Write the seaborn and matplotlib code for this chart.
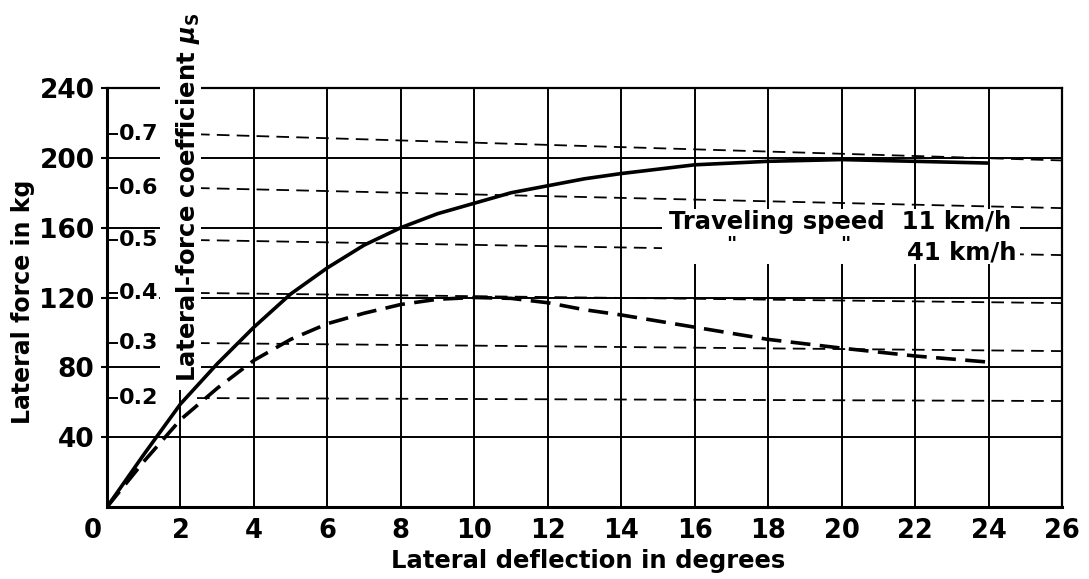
import matplotlib
matplotlib.use("Agg")
import matplotlib.pyplot as plt
import matplotlib.transforms as mtransforms
from matplotlib.patches import Rectangle
import seaborn as sns
import pandas as pd

# ---------------- data ----------------
deflection_deg = [0, 1, 2, 3, 4, 5, 6, 7, 8, 9, 10, 11, 12, 13, 14, 16, 18, 20, 22, 24]
force_11kmh = [0, 30, 59, 82, 103, 122, 137, 150, 160, 168, 174, 180, 184, 188, 191, 196, 198, 199, 198, 197]
force_41kmh = [0, 26, 50, 68, 84, 96, 105, 111, 116, 119, 120, 119.5, 117, 113, 110, 103, 96, 91, 86.5, 83]

mu_labels = ["0.2", "0.3", "0.4", "0.5", "0.6", "0.7"]
mu_left_kg = [62.4, 93.9, 122.6, 152.9, 182.7, 213.5]
mu_right_kg = [60.7, 89.3, 116.8, 144.3, 171.2, 198.5]

x_ticks = list(range(0, 27, 2))
y_ticks = [40, 80, 120, 160, 200, 240]

series_names = ["Traveling speed 11 km/h", "Traveling speed 41 km/h"]

df = pd.DataFrame({
    "deflection": deflection_deg * 2,
    "force": force_11kmh + force_41kmh,
    "speed": [series_names[0]] * len(deflection_deg) + [series_names[1]] * len(deflection_deg),
})

# ---------------- style ----------------
sns.set_style("white")
plt.rcParams["font.family"] = ["DejaVu Sans"]
plt.rcParams["font.weight"] = "bold"
for k in ("text.color", "axes.labelcolor", "xtick.color", "ytick.color"):
    plt.rcParams[k] = "black"

W, H = 1089, 579
fig, ax = plt.subplots(figsize=(W / 100, H / 100), dpi=100)
fig.subplots_adjust(left=107 / W, right=1062 / W, top=1 - 88 / H, bottom=1 - 507 / H)

ax.set_xlim(0, 26)
ax.set_ylim(0, 240)
ax.set_xticks(x_ticks)
ax.set_yticks(y_ticks)
ax.set_xticklabels([str(v) for v in x_ticks], fontsize=18.5, fontweight="bold")
ax.set_yticklabels([str(v) for v in y_ticks], fontsize=19, fontweight="bold")
ax.tick_params(axis="x", length=0, pad=8)
ax.tick_params(axis="y", length=4, width=1.5, color="black", direction="out", pad=5, left=True)
ax.grid(True, color="black", linewidth=1.4, zorder=1)
ax.set_axisbelow(True)
for side, sp in ax.spines.items():
    sp.set_visible(True)
    sp.set_color("black")
    sp.set_linewidth(2.2 if side in ("left", "bottom") else 1.6)

# the "0" label sits a little left of the axis corner
first = ax.get_xticklabels()[0]
first.set_transform(first.get_transform() + mtransforms.ScaledTranslation(-0.14, 0, fig.dpi_scale_trans))

# mu (lateral-force coefficient) lines, ticks and labels
mu_x_start = 2.45
for lab, yl, yr in zip(mu_labels, mu_left_kg, mu_right_kg):
    ax.plot([mu_x_start, 26], [yl, yr], color="black", lw=1.3, dashes=(7, 4), zorder=2)
    ax.plot([0, 0.3], [yl, yl], color="black", lw=1.4, zorder=2)
    ax.text(0.33, yl, lab, fontsize=16, fontweight="bold", ha="left", va="center", zorder=5,
            bbox=dict(facecolor="white", edgecolor="none", pad=0.5))

# white band behind the rotated coefficient label
ax.add_patch(Rectangle((160 / W, 1 - 390 / H), 41 / W, 390 / H, transform=fig.transFigure,
                       facecolor="white", edgecolor="none", clip_on=False, zorder=2.8))

# white area behind legend text
ax.add_patch(Rectangle((15.1, 139), 24.85 - 15.1, 170.5 - 139, facecolor="white",
                       edgecolor="none", zorder=2.8))

# curves
sns.lineplot(data=df, x="deflection", y="force", hue="speed", style="speed",
             palette=["black", "black"], dashes=[(1, 0), (5.5, 2.6)], linewidth=2.6,
             legend=False, ax=ax, zorder=4)

# legend texts
ax.text(15.3, 163.2, "Traveling speed  11 km/h", fontsize=17.5, fontweight="bold",
        ha="left", va="center", zorder=5)
ax.text(24.75, 146, "41 km/h", fontsize=17.5, fontweight="bold", ha="right", va="center", zorder=5)
ax.text(17.0, 150.5, '"', fontsize=14, ha="center", va="center", zorder=5)
ax.text(20.1, 150.5, '"', fontsize=14, ha="center", va="center", zorder=5)

# axis labels
ax.set_xlabel("Lateral deflection in degrees", fontsize=17.5, fontweight="bold")
ax.xaxis.set_label_coords((588 - 107) / 955, (507 - 549) / 419)
ax.set_ylabel("Lateral force in kg", fontsize=17, fontweight="bold")
ax.yaxis.set_label_coords((35 - 107) / 955, (507 - 302) / 419)

fig.text(188 / W, 1 - 197 / H, r"Lateral-force coefficient $\mu_\mathregular{S}$", rotation=90,
         ha="center", va="center", fontsize=17.5, fontweight="bold")

fig.savefig("out.png", dpi=100, facecolor="white")
